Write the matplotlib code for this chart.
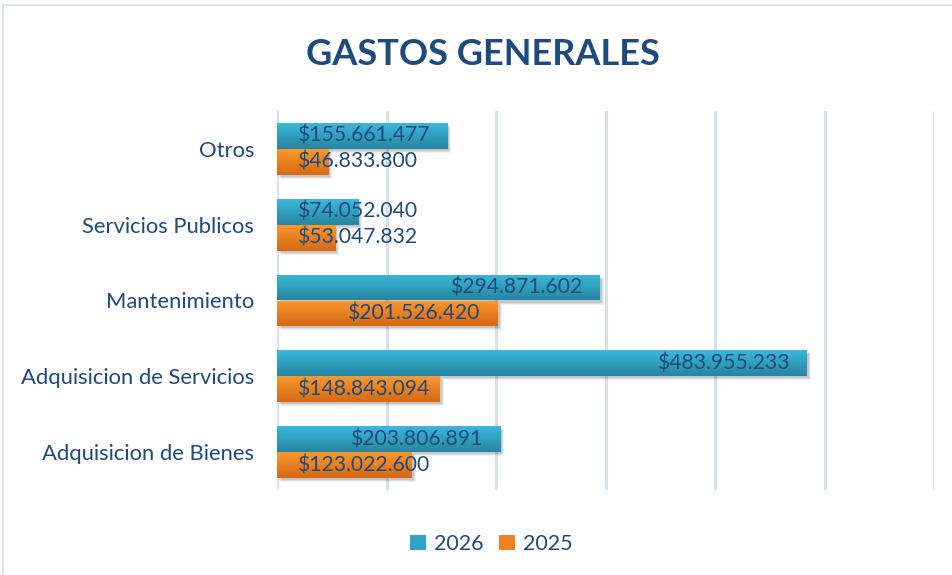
import numpy as np
import matplotlib.pyplot as plt
import matplotlib.transforms as mtransforms
from matplotlib.colors import to_rgb
from matplotlib.patches import Rectangle, Patch

plt.rcParams['font.family'] = ['Lato', 'DejaVu Sans']

# data (bottom to top, as drawn)
categories = ["Adquisicion de Bienes", "Adquisicion de Servicios", "Mantenimiento",
              "Servicios Publicos", "Otros"]
values_2026 = [203806891, 483955233, 294871602, 74052040, 155661477]
values_2025 = [123022600, 148843094, 201526420, 53047832, 46833800]
series_names = ["2026", "2025"]

text_color = "#1F4A7D"
grid_color = "#D6E1F0"
teal_top, teal_bot = "#3BB8DA", "#2785A1"
orange_top, orange_bot = "#FA982E", "#D66914"


def fmt(v):
    return "$" + f"{v:,}".replace(",", ".")


def gradient_fill(ax, bar, c_top, c_bot):
    x0, y0 = bar.get_x(), bar.get_y()
    w, h = bar.get_width(), bar.get_height()
    ct, cb = np.array(to_rgb(c_top)), np.array(to_rgb(c_bot))
    t = np.linspace(0, 1, 64)[:, None]
    grad = (ct * (1 - t) + cb * t)[:, None, :]
    im = ax.imshow(grad, extent=[x0, x0 + w, y0, y0 + h], aspect='auto',
                   origin='upper', zorder=3, interpolation='bilinear')
    im.set_clip_path(bar)
    # soft shadow
    for k, a in [(4, 0.06), (3, 0.08), (2, 0.10)]:
        tr = mtransforms.offset_copy(ax.transData, fig=ax.figure, x=k, y=-k, units='dots')
        ax.add_patch(Rectangle((x0, y0), w, h, transform=tr, facecolor='black',
                               edgecolor='none', alpha=a, zorder=2))


fig = plt.figure(figsize=(9.52, 5.75), dpi=100)
ax = fig.add_axes([277 / 952, 85 / 575, (934 - 277) / 952, (490 - 111) / 575])

y = np.arange(len(categories))
bh = 0.342
bars26 = ax.barh(y + bh / 2, values_2026, height=bh, color='none', zorder=3)
bars25 = ax.barh(y - bh / 2, values_2025, height=bh, color='none', zorder=3)

for b in bars26:
    gradient_fill(ax, b, teal_top, teal_bot)
for b in bars25:
    gradient_fill(ax, b, orange_top, orange_bot)

ax.set_xlim(0, 600e6)
ax.set_ylim(-0.5, len(categories) - 0.5)
ax.set_xticks(np.arange(0, 600e6 + 1, 100e6))
ax.tick_params(axis='x', length=0, labelbottom=False)
ax.xaxis.grid(True, color=grid_color, linewidth=2.2, zorder=0)
ax.set_axisbelow(True)
ax.set_yticks(y)
ax.set_yticklabels(categories, fontsize=15.8, color=text_color)
ax.tick_params(axis='y', length=0, pad=16.5)
for s in ax.spines.values():
    s.set_visible(False)

# data labels
fig.canvas.draw()
renderer = fig.canvas.get_renderer()
min_left = ax.transData.transform((0, 0))[0] + 21
for bars, vals in [(bars26, values_2026), (bars25, values_2025)]:
    for b, v in zip(bars, vals):
        yc = b.get_y() + b.get_height() / 2
        t = ax.annotate(fmt(v), xy=(v, yc), xytext=(-17, 0), textcoords='offset pixels',
                        ha='right', va='center', fontsize=15.2, color=text_color, zorder=5)
        ext = t.get_window_extent(renderer)
        if ext.x0 < min_left:
            t.remove()
            ax.annotate(fmt(v), xy=(0, yc), xytext=(21, 0), textcoords='offset pixels',
                        ha='left', va='center', fontsize=15.2, color=text_color, zorder=5)

fig.text(0.507, 0.906, "GASTOS GENERALES", ha='center', va='center', fontsize=26,
         fontweight='bold', color=text_color)

handles = [Patch(facecolor="#31A3C4"), Patch(facecolor="#EE8222")]
fig.legend(handles, series_names, loc='center', bbox_to_anchor=(0.516, 0.054), ncol=2,
           frameon=False, fontsize=15.5, labelcolor=text_color, handlelength=0.75,
           handleheight=0.75, handletextpad=0.35, columnspacing=0.75)

fig.patches.append(Rectangle((3, -5), 960, 575, transform=None, fill=False,
                             edgecolor="#D9E2EE", linewidth=1.5))

fig.savefig("out.png", dpi=100)
